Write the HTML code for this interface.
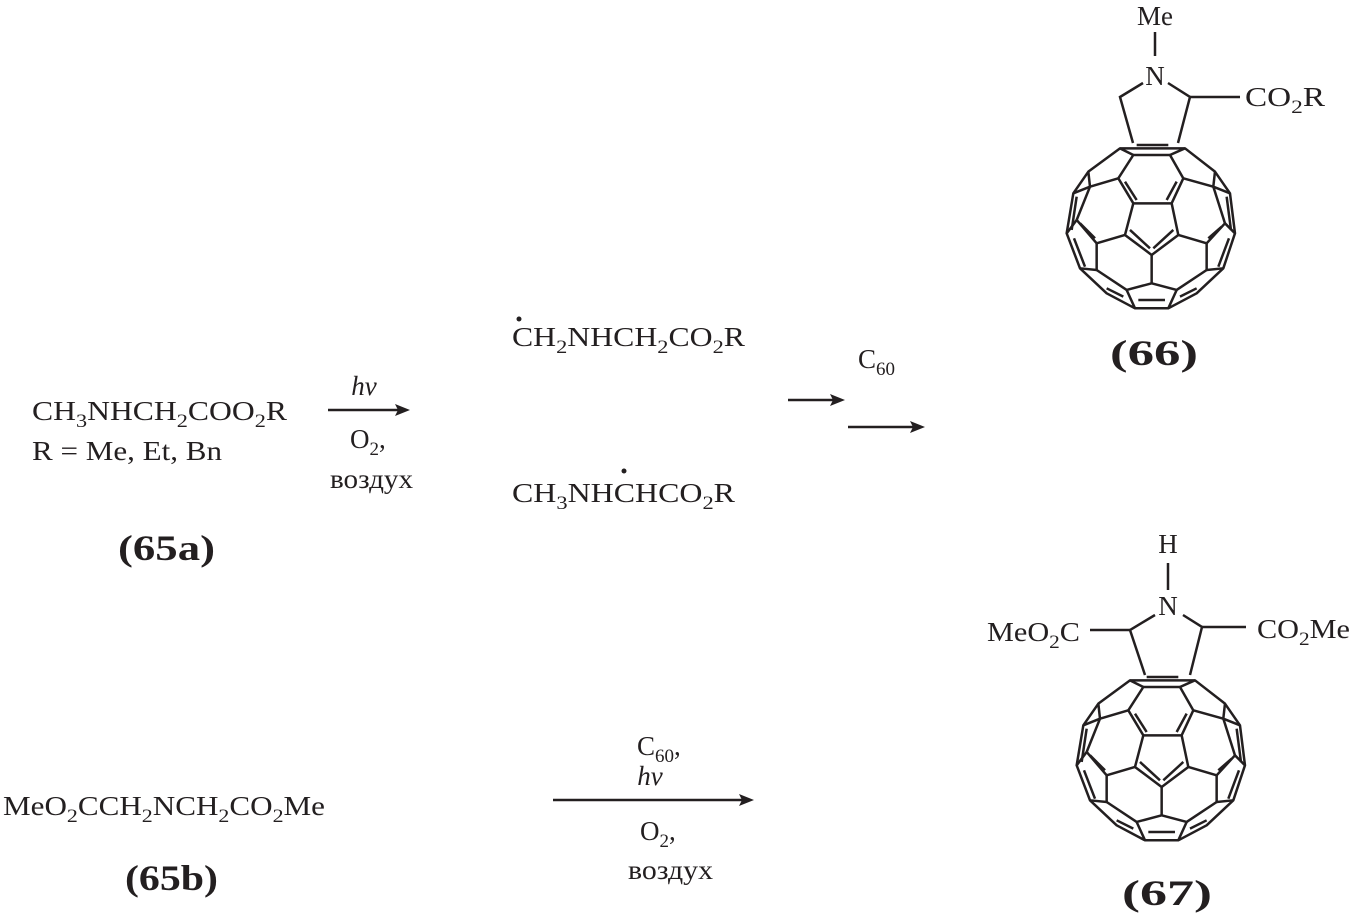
<!DOCTYPE html>
<html><head><meta charset="utf-8"><style>
body{margin:0;width:1351px;height:920px;background:#fff;overflow:hidden}
svg{position:absolute;left:0;top:0}
text{font-family:"Liberation Serif",serif;font-size:27px;fill:#231f20}
.b{font-weight:bold;font-size:36px}
</style></head><body>
<svg width="1351" height="920" viewBox="0 0 1351 920">
<defs>
<g id="ball" fill="none" stroke="#231f20" stroke-width="7.5" stroke-linejoin="round">
<polygon points="270,265 465,265 555,335 600,400 615,520 580,625 500,700 415,745 315,745 230,700 150,625 110,520 130,400 175,335"/>
<polygon points="310,430 425,430 445,525 365,585 285,525"/>
<polyline points="310,430 265,355 310,285 420,285 460,355 425,430"/>
<line x1="265" y1="355" x2="180" y2="380"/><line x1="460" y1="355" x2="550" y2="380"/>
<line x1="180" y1="380" x2="175" y2="335"/><line x1="550" y1="380" x2="555" y2="335"/>
<line x1="310" y1="285" x2="270" y2="265"/><line x1="420" y1="285" x2="465" y2="265"/>
<line x1="180" y1="380" x2="140" y2="480"/><line x1="550" y1="380" x2="585" y2="490"/>
<line x1="140" y1="480" x2="110" y2="520"/><line x1="585" y1="490" x2="615" y2="520"/>
<line x1="285" y1="525" x2="200" y2="550"/><line x1="445" y1="525" x2="530" y2="550"/>
<line x1="140" y1="480" x2="200" y2="550"/><line x1="585" y1="490" x2="530" y2="550"/>
<polyline points="150,625 200,630 200,550"/><polyline points="580,625 530,630 530,550"/>
<line x1="365" y1="585" x2="365" y2="670"/>
<polyline points="315,745 290,690 365,670 440,690 415,745"/>
<line x1="200" y1="630" x2="290" y2="690"/><line x1="530" y1="630" x2="440" y2="690"/>
<line x1="130" y1="400" x2="180" y2="380"/><line x1="600" y1="400" x2="550" y2="380"/>
<line x1="320" y1="255" x2="415" y2="255"/>
<line x1="285" y1="365" x2="320" y2="420"/><line x1="440" y1="365" x2="410" y2="420"/>
<line x1="300" y1="510" x2="360" y2="565"/><line x1="430" y1="510" x2="370" y2="565"/>
<line x1="150" y1="490" x2="195" y2="535"/><line x1="575" y1="500" x2="535" y2="535"/>
<line x1="140" y1="410" x2="125" y2="510"/><line x1="590" y1="410" x2="603" y2="510"/>
<line x1="165" y1="620" x2="132" y2="535"/><line x1="565" y1="620" x2="597" y2="535"/>
<line x1="230" y1="685" x2="280" y2="710"/><line x1="500" y1="685" x2="450" y2="710"/>
<line x1="325" y1="720" x2="405" y2="720"/>
</g>
</defs>
<g transform="translate(1030,60) scale(0.3333)"><use href="#ball"/></g>
<g transform="translate(1040,592) scale(0.3333)"><use href="#ball"/></g>
<g stroke="#231f20" stroke-width="2.5" fill="none">
<line x1="1155" y1="32" x2="1155" y2="56"/>
<polyline points="1143,83 1120,97 1133,143"/>
<polyline points="1168,83 1190,97 1178,143"/>
<line x1="1190" y1="97" x2="1240" y2="97"/>
<line x1="1168" y1="563" x2="1168" y2="590"/>
<polyline points="1155,615 1130,630 1145,675"/>
<polyline points="1183,615 1202,627 1190,675"/>
<line x1="1090" y1="630" x2="1130" y2="630"/>
<line x1="1202" y1="627" x2="1246" y2="627"/>
<line x1="328" y1="410" x2="398" y2="410"/>
<line x1="788" y1="400" x2="833" y2="400"/>
<line x1="848" y1="427" x2="913" y2="427"/>
<line x1="553" y1="800" x2="742" y2="800"/>
</g>
<g fill="#231f20">
<polygon points="410,410 395,404 398,410 395,416"/>
<polygon points="845,400 830,394 833,400 830,406"/>
<polygon points="925,427 910,421 913,427 910,433"/>
<polygon points="754,800 739,794 742,800 739,806"/>
<circle cx="519" cy="319" r="2.5"/><circle cx="624" cy="471" r="2.5"/>
</g>
<text x="1155" y="25" text-anchor="middle">Me</text>
<text x="1155" y="85" text-anchor="middle">N</text>
<text x="1245" y="106" textLength="80" lengthAdjust="spacingAndGlyphs">CO<tspan font-size="19" dy="7">2</tspan><tspan dy="-7">R</tspan></text>
<text class="b" x="1110" y="365" textLength="88" lengthAdjust="spacingAndGlyphs">(66)</text>
<text x="1168" y="553" text-anchor="middle">H</text>
<text x="1168" y="615" text-anchor="middle">N</text>
<text x="987" y="641" textLength="93" lengthAdjust="spacingAndGlyphs">MeO<tspan font-size="19" dy="7">2</tspan><tspan dy="-7">C</tspan></text>
<text x="1257" y="638" textLength="93" lengthAdjust="spacingAndGlyphs">CO<tspan font-size="19" dy="7">2</tspan><tspan dy="-7">Me</tspan></text>
<text class="b" x="1122" y="905" textLength="90" lengthAdjust="spacingAndGlyphs">(67)</text>
<text x="32" y="420" textLength="255" lengthAdjust="spacingAndGlyphs">CH<tspan font-size="19" dy="7">3</tspan><tspan dy="-7">NHCH</tspan><tspan font-size="19" dy="7">2</tspan><tspan dy="-7">COO</tspan><tspan font-size="19" dy="7">2</tspan><tspan dy="-7">R</tspan></text>
<text x="32" y="460" textLength="190" lengthAdjust="spacingAndGlyphs">R = Me, Et, Bn</text>
<text class="b" x="118" y="560" textLength="97" lengthAdjust="spacingAndGlyphs">(65a)</text>
<text x="364" y="395" text-anchor="middle" font-style="italic">hv</text>
<text x="350" y="448">O<tspan font-size="19" dy="7">2</tspan><tspan dy="-7">,</tspan></text>
<text x="330" y="488" textLength="83" lengthAdjust="spacingAndGlyphs">воздух</text>
<text x="512" y="346" textLength="233" lengthAdjust="spacingAndGlyphs">CH<tspan font-size="19" dy="7">2</tspan><tspan dy="-7">NHCH</tspan><tspan font-size="19" dy="7">2</tspan><tspan dy="-7">CO</tspan><tspan font-size="19" dy="7">2</tspan><tspan dy="-7">R</tspan></text>
<text x="512" y="502" textLength="223" lengthAdjust="spacingAndGlyphs">CH<tspan font-size="19" dy="7">3</tspan><tspan dy="-7">NHCHCO</tspan><tspan font-size="19" dy="7">2</tspan><tspan dy="-7">R</tspan></text>
<text x="858" y="368">C<tspan font-size="19" dy="7">60</tspan></text>
<text x="3" y="815" textLength="322" lengthAdjust="spacingAndGlyphs">MeO<tspan font-size="19" dy="7">2</tspan><tspan dy="-7">CCH</tspan><tspan font-size="19" dy="7">2</tspan><tspan dy="-7">NCH</tspan><tspan font-size="19" dy="7">2</tspan><tspan dy="-7">CO</tspan><tspan font-size="19" dy="7">2</tspan><tspan dy="-7">Me</tspan></text>
<text class="b" x="125" y="890" textLength="93" lengthAdjust="spacingAndGlyphs">(65b)</text>
<text x="637" y="755">C<tspan font-size="19" dy="7">60</tspan><tspan dy="-7">,</tspan></text>
<text x="650" y="785" text-anchor="middle" font-style="italic">hv</text>
<text x="640" y="840">O<tspan font-size="19" dy="7">2</tspan><tspan dy="-7">,</tspan></text>
<text x="628" y="879" textLength="85" lengthAdjust="spacingAndGlyphs">воздух</text>
</svg>
</body></html>
